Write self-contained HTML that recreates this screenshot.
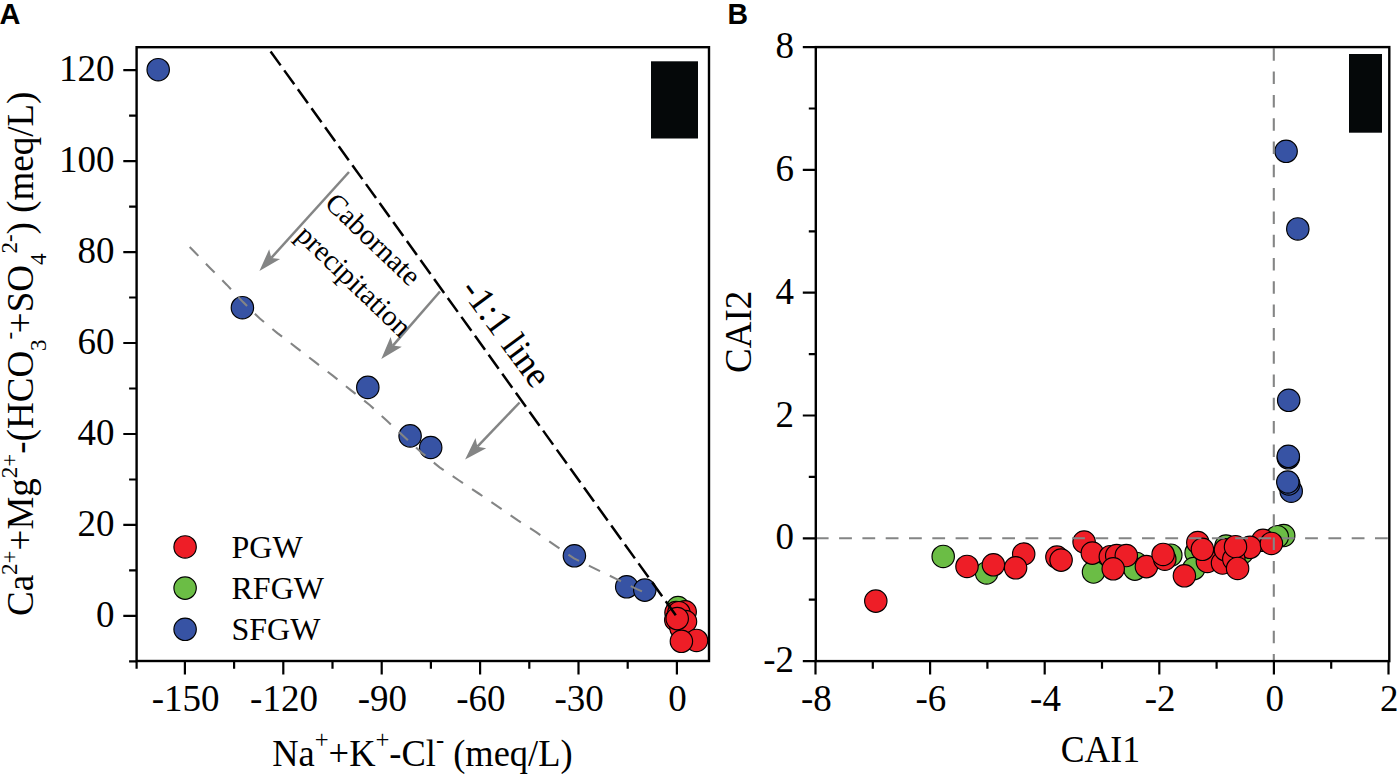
<!DOCTYPE html>
<html><head><meta charset="utf-8"><style>
html,body{margin:0;padding:0;background:#fff;width:1397px;height:774px;overflow:hidden}
svg{display:block}
text{font-family:"Liberation Serif",serif;fill:#000}
.t{font-size:37px}
.s{font-size:29px}
.l{font-size:32px}
.sup{font-size:23px}
.sup2{font-size:25px}
.p{font-family:"Liberation Sans",sans-serif;font-weight:bold;font-size:29px}
</style></head><body>
<svg width="1397" height="774" viewBox="0 0 1397 774">
<path d="M123.3 615.9H136.6 M123.3 524.9H136.6 M123.3 434.0H136.6 M123.3 343.0H136.6 M123.3 252.1H136.6 M123.3 161.1H136.6 M123.3 70.1H136.6 M129.1 661.4H136.6 M129.1 570.4H136.6 M129.1 479.5H136.6 M129.1 388.5H136.6 M129.1 297.5H136.6 M129.1 206.6H136.6 M129.1 115.6H136.6 M184.9 661.0V674.5 M283.3 661.0V674.5 M381.7 661.0V674.5 M480.1 661.0V674.5 M578.5 661.0V674.5 M676.9 661.0V674.5 M136.6 661.0V668.7 M234.1 661.0V668.7 M332.5 661.0V668.7 M430.9 661.0V668.7 M529.3 661.0V668.7 M627.7 661.0V668.7" stroke="#000" stroke-width="2.2" fill="none"/>
<text x="114.5" y="626.9" text-anchor="end" class="t">0</text>
<text x="114.5" y="535.9" text-anchor="end" class="t">20</text>
<text x="114.5" y="445.0" text-anchor="end" class="t">40</text>
<text x="114.5" y="354.0" text-anchor="end" class="t">60</text>
<text x="114.5" y="263.1" text-anchor="end" class="t">80</text>
<text x="114.5" y="172.1" text-anchor="end" class="t">100</text>
<text x="114.5" y="81.1" text-anchor="end" class="t">120</text>
<text x="185.6" y="710.8" text-anchor="middle" class="t">-150</text>
<text x="284.0" y="710.8" text-anchor="middle" class="t">-120</text>
<text x="382.4" y="710.8" text-anchor="middle" class="t">-90</text>
<text x="480.8" y="710.8" text-anchor="middle" class="t">-60</text>
<text x="579.2" y="710.8" text-anchor="middle" class="t">-30</text>
<text x="677.6" y="710.8" text-anchor="middle" class="t">0</text>
<rect x="651" y="61.3" width="47" height="77.2" fill="#050809"/>
<circle cx="158.2" cy="69.7" r="11.2" fill="#3753A4" stroke="#000" stroke-width="1.15"/>
<circle cx="242.4" cy="307.7" r="11.2" fill="#3753A4" stroke="#000" stroke-width="1.15"/>
<circle cx="367.8" cy="387.4" r="11.2" fill="#3753A4" stroke="#000" stroke-width="1.15"/>
<circle cx="410.1" cy="435.9" r="11.2" fill="#3753A4" stroke="#000" stroke-width="1.15"/>
<circle cx="430.7" cy="447.5" r="11.2" fill="#3753A4" stroke="#000" stroke-width="1.15"/>
<circle cx="574.4" cy="555.8" r="11.2" fill="#3753A4" stroke="#000" stroke-width="1.15"/>
<circle cx="626.7" cy="586.8" r="11.2" fill="#3753A4" stroke="#000" stroke-width="1.15"/>
<circle cx="644.8" cy="590.1" r="11.2" fill="#3753A4" stroke="#000" stroke-width="1.15"/>
<circle cx="678.0" cy="607.5" r="11.2" fill="#6BBD45" stroke="#000" stroke-width="1.15"/>
<circle cx="676.0" cy="612.5" r="11.2" fill="#EE1E27" stroke="#000" stroke-width="1.15"/>
<circle cx="675.8" cy="620.0" r="11.2" fill="#EE1E27" stroke="#000" stroke-width="1.15"/>
<circle cx="685.2" cy="611.8" r="11.2" fill="#EE1E27" stroke="#000" stroke-width="1.15"/>
<circle cx="678.9" cy="612.7" r="11.2" fill="#EE1E27" stroke="#000" stroke-width="1.15"/>
<circle cx="681.0" cy="628.0" r="11.2" fill="#EE1E27" stroke="#000" stroke-width="1.15"/>
<circle cx="685.5" cy="621.5" r="11.2" fill="#EE1E27" stroke="#000" stroke-width="1.15"/>
<circle cx="696.5" cy="640.4" r="11.2" fill="#EE1E27" stroke="#000" stroke-width="1.15"/>
<circle cx="681.4" cy="641.3" r="11.2" fill="#EE1E27" stroke="#000" stroke-width="1.15"/>
<circle cx="677.2" cy="618.6" r="11.2" fill="#EE1E27" stroke="#000" stroke-width="1.15"/>
<polyline points="189.7,247 193.9,251.2 210,268 226.9,284.9 243.1,302.1 259.8,318.5 277.4,333.1 296,347.3 314.6,361.7 333.1,375.9 351.4,390.6 370,405.3 387.2,421 403.9,436.6 421.7,452.7 439.6,467.3 459.1,480.5 478.7,493.5 498,506.6 517.5,520.1 536.5,532.4 555,545.4 574,558.4 594.9,568.6 615.6,578.6 636.9,589.1 642.4,591.6" fill="none" stroke="#848585" stroke-width="2.1" stroke-dasharray="12.4 10.9"/>
<line x1="270.6" y1="51.4" x2="676.3" y2="616" stroke="#000" stroke-width="2.5" stroke-dasharray="17.2 6.15"/>
<line x1="349" y1="172" x2="271.3" y2="257.9" stroke="#848585" stroke-width="2.5"/>
<path d="M259.4 271.1L269.2 249.2L271.3 257.9L280.1 259.1Z" fill="#848585"/>
<line x1="440" y1="291.5" x2="392.9" y2="345.6" stroke="#848585" stroke-width="2.5"/>
<path d="M381.3 359.1L390.6 337.0L392.9 345.6L401.8 346.7Z" fill="#848585"/>
<line x1="519.6" y1="402.5" x2="477.4" y2="446.7" stroke="#848585" stroke-width="2.5"/>
<path d="M465.1 459.6L475.5 438.0L477.4 446.7L486.2 448.2Z" fill="#848585"/>
<text class="s" transform="translate(323.5,205) rotate(43.7)">Cabornate</text>
<text class="s" transform="translate(294.5,237) rotate(43.8)">precipitation</text>
<text class="t" transform="translate(459.5,290) rotate(53.6)">-1:1 line</text>
<circle cx="185.1" cy="546.9" r="11.2" fill="#EE1E27" stroke="#000" stroke-width="1.15"/>
<text x="231.5" y="557.5" class="l">PGW</text>
<circle cx="185.1" cy="588.1" r="11.2" fill="#6BBD45" stroke="#000" stroke-width="1.15"/>
<text x="231.5" y="598.7" class="l">RFGW</text>
<circle cx="185.1" cy="629.3" r="11.2" fill="#3753A4" stroke="#000" stroke-width="1.15"/>
<text x="231.5" y="639.9" class="l">SFGW</text>
<rect x="136.6" y="47.2" width="572.4" height="613.8" fill="none" stroke="#000" stroke-width="2.4"/>
<text class="t" text-anchor="middle" transform="translate(422.4,766) scale(0.985,1)">Na<tspan dy="-18.5" class="sup2">+</tspan><tspan dy="18.5">+K</tspan><tspan dy="-18.5" class="sup2">+</tspan><tspan dy="18.5">-Cl</tspan><tspan dy="-18.5" class="sup2">-</tspan><tspan dy="18.5"> (meq/L)</tspan></text>
<text class="t" transform="translate(33.3,616) rotate(-90)">Ca<tspan dy="-16.3" class="sup">2+</tspan><tspan dy="16.3">+Mg</tspan><tspan dy="-16.3" class="sup">2+</tspan><tspan dy="16.3">-(HCO</tspan><tspan dy="13" class="sup">3</tspan><tspan dy="-29.3" class="sup">-</tspan><tspan dy="16.3" dx="-1.5">+SO</tspan><tspan dy="13" class="sup">4</tspan><tspan dy="-29.3" class="sup">2-</tspan><tspan dy="16.3">) (meq/L)</tspan></text>
<text class="p" transform="translate(-0.5,23.9) scale(1,1)">A</text>
<path d="M802.8 661.1H815.8 M802.8 538.3H815.8 M802.8 415.5H815.8 M802.8 292.7H815.8 M802.8 169.9H815.8 M802.8 47.1H815.8 M808.8 599.7H815.8 M808.8 476.9H815.8 M808.8 354.1H815.8 M808.8 231.3H815.8 M808.8 108.5H815.8 M815.5 661.1V674.5 M930.1 661.1V674.5 M1044.7 661.1V674.5 M1159.3 661.1V674.5 M1273.9 661.1V674.5 M1388.5 661.1V674.5 M872.8 661.1V668.7 M987.4 661.1V668.7 M1102.0 661.1V668.7 M1216.6 661.1V668.7 M1331.2 661.1V668.7" stroke="#000" stroke-width="2.2" fill="none"/>
<text x="794" y="672.1" text-anchor="end" class="t">-2</text>
<text x="794" y="549.3" text-anchor="end" class="t">0</text>
<text x="794" y="426.5" text-anchor="end" class="t">2</text>
<text x="794" y="303.7" text-anchor="end" class="t">4</text>
<text x="794" y="180.9" text-anchor="end" class="t">6</text>
<text x="794" y="58.1" text-anchor="end" class="t">8</text>
<text x="816.3" y="710.8" text-anchor="middle" class="t">-8</text>
<text x="930.9" y="710.8" text-anchor="middle" class="t">-6</text>
<text x="1045.5" y="710.8" text-anchor="middle" class="t">-4</text>
<text x="1160.1" y="710.8" text-anchor="middle" class="t">-2</text>
<text x="1274.7" y="710.8" text-anchor="middle" class="t">0</text>
<text x="1389.3" y="710.8" text-anchor="middle" class="t">2</text>
<rect x="1349" y="54" width="33" height="78.7" fill="#050809"/>
<circle cx="943.2" cy="556.4" r="11.2" fill="#6BBD45" stroke="#000" stroke-width="1.15"/>
<circle cx="986.6" cy="572.9" r="11.2" fill="#6BBD45" stroke="#000" stroke-width="1.15"/>
<circle cx="1093.5" cy="572.0" r="11.2" fill="#6BBD45" stroke="#000" stroke-width="1.15"/>
<circle cx="1136.3" cy="563.4" r="11.2" fill="#6BBD45" stroke="#000" stroke-width="1.15"/>
<circle cx="1134.9" cy="569.1" r="11.2" fill="#6BBD45" stroke="#000" stroke-width="1.15"/>
<circle cx="1170.8" cy="555.2" r="11.2" fill="#6BBD45" stroke="#000" stroke-width="1.15"/>
<circle cx="1196.1" cy="552.7" r="11.2" fill="#6BBD45" stroke="#000" stroke-width="1.15"/>
<circle cx="1193.8" cy="568.6" r="11.2" fill="#6BBD45" stroke="#000" stroke-width="1.15"/>
<circle cx="1226.0" cy="546.0" r="11.2" fill="#6BBD45" stroke="#000" stroke-width="1.15"/>
<circle cx="1242.0" cy="553.0" r="11.2" fill="#6BBD45" stroke="#000" stroke-width="1.15"/>
<circle cx="1283.7" cy="535.5" r="11.2" fill="#6BBD45" stroke="#000" stroke-width="1.15"/>
<circle cx="1277.3" cy="536.7" r="11.2" fill="#6BBD45" stroke="#000" stroke-width="1.15"/>
<circle cx="875.8" cy="601.1" r="11.2" fill="#EE1E27" stroke="#000" stroke-width="1.15"/>
<circle cx="967.0" cy="566.4" r="11.2" fill="#EE1E27" stroke="#000" stroke-width="1.15"/>
<circle cx="993.4" cy="564.8" r="11.2" fill="#EE1E27" stroke="#000" stroke-width="1.15"/>
<circle cx="1023.7" cy="554.0" r="11.2" fill="#EE1E27" stroke="#000" stroke-width="1.15"/>
<circle cx="1015.6" cy="567.8" r="11.2" fill="#EE1E27" stroke="#000" stroke-width="1.15"/>
<circle cx="1056.9" cy="557.1" r="11.2" fill="#EE1E27" stroke="#000" stroke-width="1.15"/>
<circle cx="1061.1" cy="560.1" r="11.2" fill="#EE1E27" stroke="#000" stroke-width="1.15"/>
<circle cx="1084.1" cy="542.0" r="11.2" fill="#EE1E27" stroke="#000" stroke-width="1.15"/>
<circle cx="1092.3" cy="553.1" r="11.2" fill="#EE1E27" stroke="#000" stroke-width="1.15"/>
<circle cx="1110.3" cy="556.7" r="11.2" fill="#EE1E27" stroke="#000" stroke-width="1.15"/>
<circle cx="1116.7" cy="555.6" r="11.2" fill="#EE1E27" stroke="#000" stroke-width="1.15"/>
<circle cx="1126.3" cy="555.5" r="11.2" fill="#EE1E27" stroke="#000" stroke-width="1.15"/>
<circle cx="1113.2" cy="568.8" r="11.2" fill="#EE1E27" stroke="#000" stroke-width="1.15"/>
<circle cx="1146.4" cy="566.6" r="11.2" fill="#EE1E27" stroke="#000" stroke-width="1.15"/>
<circle cx="1164.8" cy="559.2" r="11.2" fill="#EE1E27" stroke="#000" stroke-width="1.15"/>
<circle cx="1163.1" cy="554.4" r="11.2" fill="#EE1E27" stroke="#000" stroke-width="1.15"/>
<circle cx="1197.8" cy="542.5" r="11.2" fill="#EE1E27" stroke="#000" stroke-width="1.15"/>
<circle cx="1207.4" cy="561.4" r="11.2" fill="#EE1E27" stroke="#000" stroke-width="1.15"/>
<circle cx="1202.4" cy="549.3" r="11.2" fill="#EE1E27" stroke="#000" stroke-width="1.15"/>
<circle cx="1184.4" cy="575.8" r="11.2" fill="#EE1E27" stroke="#000" stroke-width="1.15"/>
<circle cx="1222.5" cy="563.0" r="11.2" fill="#EE1E27" stroke="#000" stroke-width="1.15"/>
<circle cx="1225.5" cy="549.8" r="11.2" fill="#EE1E27" stroke="#000" stroke-width="1.15"/>
<circle cx="1263.0" cy="540.3" r="11.2" fill="#EE1E27" stroke="#000" stroke-width="1.15"/>
<circle cx="1250.0" cy="547.3" r="11.2" fill="#EE1E27" stroke="#000" stroke-width="1.15"/>
<circle cx="1233.8" cy="559.1" r="11.2" fill="#EE1E27" stroke="#000" stroke-width="1.15"/>
<circle cx="1235.5" cy="546.7" r="11.2" fill="#EE1E27" stroke="#000" stroke-width="1.15"/>
<circle cx="1237.6" cy="568.4" r="11.2" fill="#EE1E27" stroke="#000" stroke-width="1.15"/>
<circle cx="1271.4" cy="543.4" r="11.2" fill="#EE1E27" stroke="#000" stroke-width="1.15"/>
<circle cx="1286.1" cy="151.3" r="11.2" fill="#3753A4" stroke="#000" stroke-width="1.15"/>
<circle cx="1297.8" cy="228.9" r="11.2" fill="#3753A4" stroke="#000" stroke-width="1.15"/>
<circle cx="1288.7" cy="400.3" r="11.2" fill="#3753A4" stroke="#000" stroke-width="1.15"/>
<circle cx="1288.3" cy="457.8" r="11.2" fill="#3753A4" stroke="#000" stroke-width="1.15"/>
<circle cx="1288.3" cy="456.3" r="11.2" fill="#3753A4" stroke="#000" stroke-width="1.15"/>
<circle cx="1291.2" cy="491.2" r="11.2" fill="#3753A4" stroke="#000" stroke-width="1.15"/>
<circle cx="1288.7" cy="484.0" r="11.2" fill="#3753A4" stroke="#000" stroke-width="1.15"/>
<circle cx="1287.8" cy="482.0" r="11.2" fill="#3753A4" stroke="#000" stroke-width="1.15"/>
<line x1="815.8" y1="538.2" x2="1389.3" y2="538.2" stroke="#848585" stroke-width="2.1" stroke-dasharray="12.8 10.5"/>
<line x1="1273.8" y1="48.3" x2="1273.8" y2="661.1" stroke="#848585" stroke-width="2.1" stroke-dasharray="12.5 10.8"/>
<rect x="815.8" y="47.1" width="573.5" height="614.0" fill="none" stroke="#000" stroke-width="2.4"/>
<text class="t" text-anchor="middle" transform="translate(1100.4,762) scale(0.965,1)">CAI1</text>
<text class="t" transform="translate(751.1,373) rotate(-90)">CAI2</text>
<text class="p" transform="translate(727.4,23.9) scale(0.98,1)">B</text>
</svg></body></html>
